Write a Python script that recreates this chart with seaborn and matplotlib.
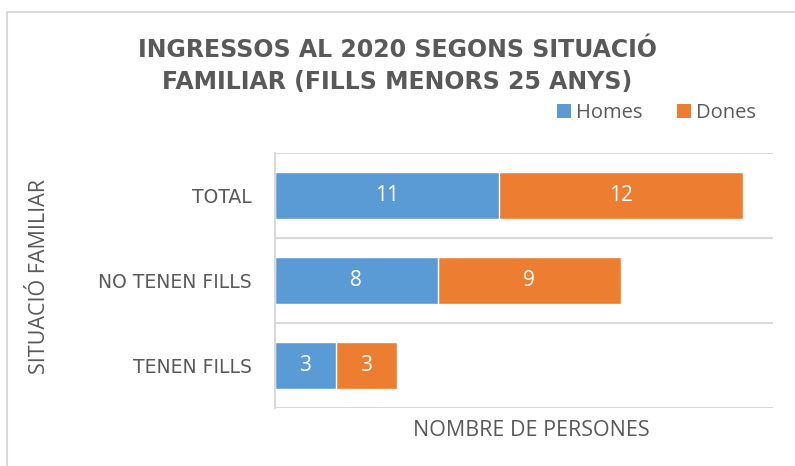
import numpy as np
import pandas as pd
import matplotlib
matplotlib.use("Agg")
import matplotlib.pyplot as plt
from matplotlib.patches import Patch
from matplotlib.lines import Line2D
import seaborn as sns

categories = ["TOTAL", "NO TENEN FILLS", "TENEN FILLS"]
homes = [11, 8, 3]
dones = [12, 9, 3]
series_names = ["Homes", "Dones"]
title = "INGRESSOS AL 2020 SEGONS SITUACIÓ\nFAMILIAR (FILLS MENORS 25 ANYS)"
xlabel = "NOMBRE DE PERSONES"
ylabel = "SITUACIÓ FAMILIAR"

BLUE = "#5B9BD5"
ORANGE = "#ED7D31"
TXT = "#595959"
GRID = "#D9D9D9"

sns.set_theme(style="white")
plt.rcParams["font.family"] = ["Open Sans", "DejaVu Sans"]

df = pd.DataFrame({"cat": categories, "Homes": homes, "Dones": dones})
df["Total"] = df["Homes"] + df["Dones"]

fig = plt.figure(figsize=(7.95, 4.66), dpi=100)
ax = fig.add_axes([275/795, 1-408/466, (773-275)/795, (408-153)/466])

sns.barplot(data=df, x="Total", y="cat", color=ORANGE, width=0.55,
            saturation=1, ax=ax, orient="h")
sns.barplot(data=df, x="Homes", y="cat", color=BLUE, width=0.55,
            saturation=1, ax=ax, orient="h")

for i, (h, d) in enumerate(zip(df["Homes"], df["Dones"])):
    ax.text(h / 2, i, str(h), ha="center", va="center", color="white", fontsize=15)
    ax.text(h + d / 2, i, str(d), ha="center", va="center", color="white", fontsize=15)

ax.set_xlim(0, 24.5)
ax.set_ylim(len(categories) - 0.5, -0.5)
ax.set_xticks([])
ax.set_yticks(range(len(categories)))
ax.set_yticklabels(categories, color=TXT, fontsize=13.5, family=["DejaVu Sans"])
ax.set_yticks(np.arange(len(categories) + 1) - 0.5, minor=True)
ax.tick_params(axis="y", which="both", length=0, pad=17)
ax.grid(which="minor", axis="y", color=GRID, linewidth=1.5)
ax.grid(which="major", visible=False)
ax.set_axisbelow(True)
for s in ["top", "right", "bottom"]:
    ax.spines[s].set_visible(False)
ax.spines["left"].set_color(GRID)
ax.spines["left"].set_linewidth(1.5)

ax.set_xlabel(xlabel, color=TXT, fontsize=15.5)
ax.xaxis.set_label_coords((531 - 275) / 498, -22 / 255)
ax.xaxis.label.set_verticalalignment("center")
ax.set_ylabel("")
fig.text(40/795, 1-277/466, ylabel, rotation=90, ha="center", va="center",
         color=TXT, fontsize=15.5)

fig.text(397/795, 1-66/466, title, ha="center", va="center", color=TXT,
         fontsize=17, fontweight="bold", linespacing=1.42, family=["DejaVu Sans"])

handles = [Patch(facecolor=BLUE, edgecolor="none"), Patch(facecolor=ORANGE, edgecolor="none")]
fig.legend(handles, series_names, loc="center right", bbox_to_anchor=(756/795, 1-113/466),
           ncol=2, frameon=False, fontsize=14.5, labelcolor=TXT, handlelength=0.7,
           handleheight=0.7, handletextpad=0.25, columnspacing=1.7, borderaxespad=0,
           borderpad=0)

fig.add_artist(Line2D([7/795, 1], [1-12/466, 1-12/466], color=GRID, linewidth=1.5,
                      transform=fig.transFigure))
fig.add_artist(Line2D([7/795, 7/795], [0, 1-12/466], color=GRID, linewidth=1.5,
                      transform=fig.transFigure))

fig.savefig("out.png", dpi=100)
